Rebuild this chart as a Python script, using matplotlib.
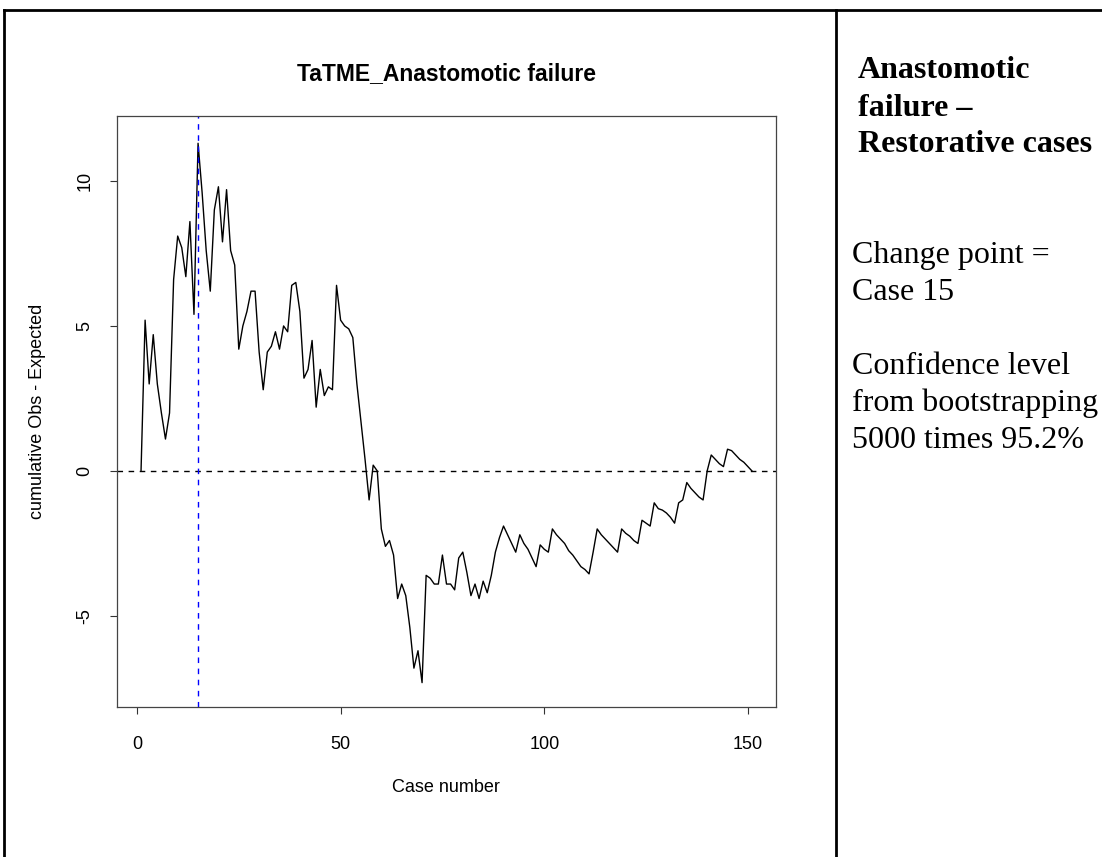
import matplotlib
matplotlib.use("Agg")
import matplotlib.pyplot as plt
from matplotlib.lines import Line2D

# R 스타일 글꼴
plt.rcParams['font.family'] = ['Liberation Sans', 'DejaVu Sans']
plt.rcParams['axes.unicode_minus'] = False

# 케이스 번호와 누적 (관측 - 기대) 값
cases = list(range(1, 152))
cusum = [
    0.0, 5.2, 3.0, 4.7, 3.0, 2.0, 1.1, 2.0, 6.6, 8.1,
    7.7, 6.7, 8.6, 5.4, 11.3, 9.6, 7.6, 6.2, 9.0, 9.8,
    7.9, 9.7, 7.6, 7.1, 4.2, 5.0, 5.5, 6.2, 6.2, 4.1,
    2.8, 4.1, 4.3, 4.8, 4.2, 5.0, 4.8, 6.4, 6.5, 5.5,
    3.2, 3.5, 4.5, 2.2, 3.5, 2.6, 2.9, 2.8, 6.4, 5.2,
    5.0, 4.9, 4.6, 3.0, 1.7, 0.4, -1.0, 0.2, 0.0, -2.0,
    -2.6, -2.4, -2.9, -4.4, -3.9, -4.3, -5.4, -6.8, -6.2, -7.3,
    -3.6, -3.7, -3.9, -3.9, -2.9, -3.9, -3.9, -4.1, -3.0, -2.8,
    -3.5, -4.3, -3.9, -4.4, -3.8, -4.2, -3.6, -2.8, -2.3, -1.9,
    -2.2, -2.5, -2.8, -2.2, -2.5, -2.7, -3.0, -3.3, -2.55, -2.7,
    -2.8, -2.0, -2.2, -2.35, -2.5, -2.75, -2.9, -3.1, -3.3, -3.4,
    -3.55, -2.8, -2.0, -2.2, -2.35, -2.5, -2.65, -2.8, -2.0, -2.15,
    -2.25, -2.4, -2.5, -1.7, -1.8, -1.9, -1.1, -1.3, -1.35, -1.45,
    -1.6, -1.8, -1.1, -1.0, -0.4, -0.6, -0.75, -0.9, -1.0, 0.0,
    0.55, 0.4, 0.25, 0.15, 0.75, 0.7, 0.55, 0.4, 0.3, 0.15,
    0.0,
]
change_point = 15
x_ticks = [0, 50, 100, 150]
y_ticks = [-5, 0, 5, 10]

header_lines = ["Anastomotic", "failure \u2013", "Restorative cases"]
note_lines = ["Change point =", "Case 15", "", "Confidence level",
              "from bootstrapping", "5000 times 95.2%"]

W, H = 1102, 857
fig = plt.figure(figsize=(W / 100, H / 100), dpi=100)
ax = fig.add_axes([117 / W, 1 - 707 / H, 659 / W, 591 / H])

ax.plot(cases, cusum, color='black', lw=1.0)
ax.axhline(0, color='black', lw=1.0, ls=(0, (4, 4)))
ax.axvline(change_point, color='blue', lw=1.0, ls=(0, (4, 4)))

ax.set_xlim(-4.9, 156.9)
ax.set_ylim(-8.14, 12.24)
ax.set_xticks(x_ticks)
ax.set_yticks(y_ticks)
ax.tick_params(direction='out', length=5, width=0.8, colors='#333333',
               labelcolor='black', labelsize=13)
ax.tick_params(axis='x', pad=16)
ax.tick_params(axis='y', pad=12)
for lab in ax.get_yticklabels():
    lab.set_rotation(90)
    lab.set_va('center')
for s in ax.spines.values():
    s.set_color('#444444')
    s.set_linewidth(0.9)

ax.set_title("TaTME_Anastomotic failure", fontsize=16.5, fontweight='bold', pad=26)
fig.text(446 / W, 1 - 788 / H, "Case number", fontsize=13, ha='center', va='center')
fig.text(38 / W, 1 - 411 / H, "cumulative Obs - Expected", fontsize=13,
         rotation=90, ha='center', va='center')

# 표 테두리
border = dict(color='black', lw=2, transform=fig.transFigure)
fig.add_artist(Line2D([4 / W, 1], [1 - 10 / H, 1 - 10 / H], **border))
fig.add_artist(Line2D([4 / W, 4 / W], [0, 1 - 10 / H], **border))
fig.add_artist(Line2D([836 / W, 836 / W], [0, 1 - 10 / H], **border))

# 오른쪽 설명
for i, line in enumerate(header_lines):
    fig.text(858 / W, 1 - (71 + 37 * i) / H, line, fontsize=23, fontweight='bold',
             family=['Liberation Serif', 'DejaVu Serif'], va='center')
for i, line in enumerate(note_lines):
    fig.text(852 / W, 1 - (255 + 37 * i) / H, line, fontsize=23,
             family=['Liberation Serif', 'DejaVu Serif'], va='center')

fig.savefig("out.png", dpi=100)
